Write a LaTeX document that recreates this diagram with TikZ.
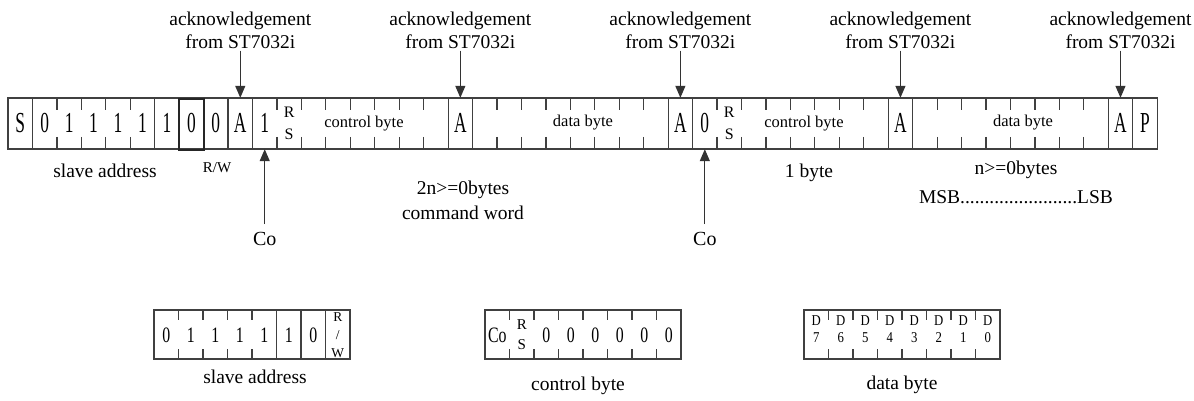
\documentclass[tikz,border=0pt]{standalone}
\usepackage{fontspec}
\setmainfont{Liberation Serif}
\newfontfamily\cndA[FakeStretch=0.6]{Liberation Serif}
\newfontfamily\cndB[FakeStretch=0.72]{Liberation Serif}
\newfontfamily\cndC[FakeStretch=0.85]{Liberation Serif}
\newcommand\mybigfont{\cndA\fontsize{29}{30}\selectfont}
\newcommand\mymidfont{\cndB\fontsize{22}{24}\selectfont}
\usetikzlibrary{arrows.meta}
\begin{document}
\begin{tikzpicture}[x=1pt,y=-1pt,
  bar/.style={draw=black!75, line width=1.2pt},
  thickbox/.style={draw=black!85, line width=2pt},
  cellnode/.style={inner sep=0pt, minimum width=24.45pt, minimum height=51pt},
  bigc/.style={font=\mybigfont, anchor=base, inner sep=0pt},
  midc/.style={font=\mymidfont, anchor=base, inner sep=0pt},
  stackA/.style={align=center, inner sep=0pt, font=\fontsize{16}{22}\selectfont},
  stackB/.style={align=center, inner sep=0pt, font=\fontsize{15}{20}\selectfont},
  stackC/.style={align=center, inner sep=0pt, font=\fontsize{13.5}{18}\selectfont},
  stackD/.style={align=center, inner sep=0pt, font=\cndC\fontsize{15}{17}\selectfont},
  inbar/.style={anchor=base, inner sep=0pt, font=\fontsize{16.5}{18}\selectfont},
  lab/.style={inner sep=0pt, font=\fontsize{19.5}{23}\selectfont},
  labs/.style={inner sep=0pt, font=\fontsize{15}{18}\selectfont},
  ack/.style={align=center, anchor=north, inner sep=0pt, font=\fontsize{19.5}{23}\selectfont},
  arr/.style={draw=black!80, line width=1.2pt, -{Triangle[length=12pt,width=10pt]}}
]
\useasboundingbox (0,0) rectangle (1194,401);
\fill[white] (0,0) rectangle (1194,401);

% ---------- main frame ----------
\foreach \k in {0,...,46}
  \node[cellnode] (c\k) at ({8+24.45*(\k+0.5)},123.5) {};
\draw[bar] (8,98) rectangle (1157.15,149);
\foreach \k in {1,6,7,8,9,10,18,19,27,28,36,37,45,46}
  \draw[bar] ({8+24.45*\k},98) -- ({8+24.45*\k},149);
\foreach \k in {2,3,4,5,11,12,...,17,20,21,...,26,29,30,...,35,38,39,...,44}{
  \draw[bar] ({8+24.45*\k},98) -- ({8+24.45*\k},110);
  \draw[bar] ({8+24.45*\k},137) -- ({8+24.45*\k},149);
}
\draw[thickbox] (179.2,99.5) rectangle (203.6,150);

\foreach \k/\t in {0/S,1/0,2/1,3/1,4/1,5/1,6/1,7/0,8/0,9/A,10/1,18/A,27/A,28/0,36/A,45/A,46/P}
  \node[bigc] (t\k) at ({8+24.45*(\k+0.5)},132) {\t};
\node[stackA] (rs1) at ({8+24.45*11.5},123.5) {R\\S};
\node[stackA] (rs2) at ({8+24.45*29.5},123.5) {R\\S};
\node[inbar] (cb1) at (364,127.3) {control byte};
\node[inbar] (db1) at (583,126.7) {data byte};
\node[inbar] (cb2) at (804,127.3) {control byte};
\node[inbar] (db2) at (1023,126.7) {data byte};

% ---------- acknowledgement arrows ----------
\foreach \i/\k in {1/9,2/18,3/27,4/36,5/45}{
  \node[ack] (ack\i) at ({8+24.45*(\k+0.5)},11.5) {acknowledgement\\from ST7032i};
  \draw[arr] ([yshift=-2pt]ack\i.south) -- (c\k.north);
}

% ---------- Co arrows ----------
\node[lab, font=\fontsize{20}{22}\selectfont, inner ysep=8pt] (co1) at ({8+24.45*10.5},239) {Co};
\node[lab, font=\fontsize{20}{22}\selectfont, inner ysep=8pt] (co2) at ({8+24.45*28.5},239) {Co};
\draw[arr] (co1.north) -- (c10.south);
\draw[arr] (co2.north) -- (c28.south);

% ---------- labels under the frame ----------
\node[lab, anchor=base] (sa) at (105,177) {slave address};
\node[labs, anchor=base] (rw) at (217,172) {R/W};
\node[lab, anchor=north, align=center, font=\fontsize{19.5}{25}\selectfont] (cw) at (463,181) {2n>=0bytes\\command word};
\node[lab, anchor=base] (ob) at (809,177) {1 byte};
\node[lab, anchor=north, align=center, font=\fontsize{19.5}{29}\selectfont] (nb) at (1016,161) {n>=0bytes\\MSB........................LSB};

% ---------- slave address box ----------
\draw[bar] (154,310) rectangle (350,359);
\foreach \k in {5,6,7} \draw[bar] ({154+24.5*\k},310) -- ({154+24.5*\k},359);
\foreach \k in {1,2,3,4}{
  \draw[bar] ({154+24.5*\k},310) -- ({154+24.5*\k},320);
  \draw[bar] ({154+24.5*\k},349) -- ({154+24.5*\k},359);
}
\foreach \k/\t in {0/0,1/1,2/1,3/1,4/1,5/1,6/0}
  \node[midc] (sb\k) at ({154+24.5*(\k+0.5)},342) {\t};
\node[stackC] (sb7) at ({154+24.5*7.5},335.5) {R\\/\\W};
\node[lab, anchor=base] (sal) at (255,383) {slave address};

% ---------- control byte box ----------
\draw[bar] (485,310) rectangle (681,359);
\foreach \k in {1,...,7}{
  \draw[bar] ({485+24.5*\k},310) -- ({485+24.5*\k},320);
  \draw[bar] ({485+24.5*\k},349) -- ({485+24.5*\k},359);
}
\node[midc] (cbx0) at ({485+24.5*0.5},342) {Co};
\node[stackB] (cbx1) at ({485+24.5*1.5},335) {R\\S};
\foreach \k in {2,...,7}
  \node[midc] (cbx\k) at ({485+24.5*(\k+0.5)},342) {0};
\node[lab, anchor=base] (cbl) at (578,390) {control byte};

% ---------- data byte box ----------
\draw[bar] (804,310) rectangle (1000,359);
\foreach \k in {1,...,7}{
  \draw[bar] ({804+24.5*\k},310) -- ({804+24.5*\k},320);
  \draw[bar] ({804+24.5*\k},349) -- ({804+24.5*\k},359);
}
\foreach \k/\d in {0/7,1/6,2/5,3/4,4/3,5/2,6/1,7/0}
  \node[stackD] (dbx\k) at ({804+24.5*(\k+0.5)},329) {D\\\d};
\node[lab, anchor=base] (dbl) at (902,389) {data byte};
\end{tikzpicture}
\end{document}
